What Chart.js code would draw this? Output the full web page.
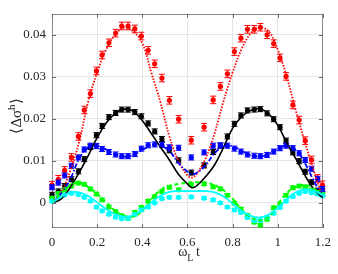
<!DOCTYPE html>
<html><head><meta charset="utf-8">
<script src="https://cdn.jsdelivr.net/npm/chart.js@4"></script>
<style>html,body{margin:0;padding:0;background:#fff;}canvas{display:block;}</style>
</head><body>
<canvas id="c" width="338" height="274"></canvas>
<script>
// ---- data ----
const tData = [0, 0.028, 0.056, 0.086, 0.117, 0.143, 0.170, 0.197, 0.222, 0.252, 0.282, 0.309, 0.337, 0.367, 0.396, 0.426, 0.455, 0.487, 0.520, 0.561, 0.617, 0.674, 0.714, 0.746, 0.777, 0.808, 0.837, 0.866, 0.896, 0.923, 0.953, 0.982, 1.010, 1.037, 1.067, 1.095, 1.122, 1.150, 1.177, 1.198];
const redData = [0.0042, 0.0056, 0.0077, 0.0108, 0.0158, 0.0221, 0.0260, 0.0314, 0.0352, 0.0381, 0.0404, 0.0421, 0.0421, 0.0414, 0.0397, 0.0363, 0.0331, 0.0297, 0.0244, 0.0199, 0.0149, 0.0180, 0.0245, 0.0277, 0.0307, 0.0360, 0.0392, 0.0413, 0.0413, 0.0418, 0.0400, 0.0379, 0.0345, 0.0301, 0.0233, 0.0197, 0.0148, 0.0102, 0.0058, 0.0043];
const blackData = [0.0019, 0.0027, 0.0040, 0.0056, 0.0075, 0.0104, 0.0133, 0.0161, 0.0183, 0.0204, 0.0214, 0.0222, 0.0222, 0.0216, 0.0206, 0.0189, 0.0170, 0.0152, 0.0125, 0.0101, 0.0072, 0.0089, 0.0121, 0.0136, 0.0158, 0.0188, 0.0208, 0.0220, 0.0222, 0.0223, 0.0213, 0.0199, 0.0180, 0.0148, 0.0120, 0.0099, 0.0074, 0.0049, 0.0029, 0.0022];
const blueData = [0.0037, 0.0048, 0.0065, 0.0088, 0.0108, 0.0127, 0.0136, 0.0135, 0.0128, 0.0121, 0.0115, 0.0111, 0.0111, 0.0116, 0.0129, 0.0137, 0.0139, 0.0138, 0.0132, 0.0131, 0.0108, 0.0120, 0.0136, 0.0137, 0.0136, 0.0129, 0.0122, 0.0115, 0.0112, 0.0111, 0.0114, 0.0122, 0.0130, 0.0136, 0.0130, 0.0118, 0.0102, 0.0081, 0.0057, 0.0033];
const greenData = [0.0011, 0.0022, 0.0032, 0.0040, 0.0047, 0.0044, 0.0033, 0.0021, 0.0007, -0.0010, -0.0021, -0.0031, -0.0037, -0.0023, -0.0011, 0.0004, 0.0015, 0.0027, 0.0037, 0.0031, 0.0043, 0.0045, 0.0038, 0.0033, 0.0018, -0.0001, -0.0015, -0.0030, -0.0046, -0.0053, -0.0039, -0.0012, -0.0004, 0.0018, 0.0036, 0.0040, 0.0038, 0.0030, 0.0025, 0.0020];
const cyanData = [0.0004, 0.0013, 0.0019, 0.0023, 0.0020, 0.0013, 0.0004, -0.0010, -0.0019, -0.0027, -0.0034, -0.0038, -0.0037, -0.0028, -0.0017, -0.0010, 0.0000, 0.0010, 0.0013, 0.0013, 0.0014, 0.0011, 0.0007, 0.0000, -0.0010, -0.0017, -0.0023, -0.0035, -0.0042, -0.0042, -0.0035, -0.0025, -0.0011, 0.0004, 0.0015, 0.0023, 0.0027, 0.0024, 0.0021, 0.0017];
const redErr = 0.0009, blackErr = 0.0006, blueErr = 0.0006, greenErr = 0.0004, cyanErr = 0.0003;

const tFit = [0, 0.04, 0.08, 0.12, 0.16, 0.20, 0.24, 0.28, 0.32, 0.36, 0.40, 0.44, 0.48, 0.52, 0.56, 0.60, 0.62, 0.64, 0.68, 0.72, 0.76, 0.80, 0.84, 0.88, 0.92, 0.96, 1.00, 1.04, 1.08, 1.12, 1.16, 1.20];
const redFit = [0, 0.0025, 0.0075, 0.0145, 0.0240, 0.0310, 0.0365, 0.0400, 0.0417, 0.0408, 0.0380, 0.0310, 0.0240, 0.0158, 0.0100, 0.0065, 0.0060, 0.0068, 0.0105, 0.0165, 0.0242, 0.0310, 0.0366, 0.0403, 0.0417, 0.0408, 0.0365, 0.0300, 0.0220, 0.0145, 0.0075, 0.0012];
const blackFit = [0, 0.0009, 0.0036, 0.0072, 0.0112, 0.0155, 0.0190, 0.0213, 0.0223, 0.0218, 0.0196, 0.0165, 0.0133, 0.0102, 0.0068, 0.0045, 0.0036, 0.0040, 0.0062, 0.0090, 0.0132, 0.0177, 0.0205, 0.0220, 0.0224, 0.0212, 0.0185, 0.0143, 0.0105, 0.0066, 0.0032, 0.0012];
const blueFit = [0, 0.0022, 0.0055, 0.0105, 0.0132, 0.0136, 0.0127, 0.0115, 0.0110, 0.0114, 0.0126, 0.0136, 0.0136, 0.0123, 0.0095, 0.0074, 0.0068, 0.0071, 0.0089, 0.0118, 0.0134, 0.0135, 0.0124, 0.0113, 0.0110, 0.0116, 0.0128, 0.0136, 0.0126, 0.0095, 0.0052, 0.0014];
const greenFit = [0, 0.0022, 0.0041, 0.0048, 0.0038, 0.0021, 0.0001, -0.0019, -0.0031, -0.0033, -0.0019, 0.0009, 0.0030, 0.0040, 0.0045, 0.0048, 0.0049, 0.0049, 0.0048, 0.0042, 0.0030, 0.0010, -0.0016, -0.0034, -0.0042, -0.0034, -0.0003, 0.0023, 0.0038, 0.0042, 0.0033, 0.0018];
const cyanFit = [0, 0.0014, 0.0024, 0.0025, 0.0016, 0.0001, -0.0015, -0.0027, -0.0033, -0.0030, -0.0017, 0.0001, 0.0017, 0.0026, 0.0028, 0.0028, 0.0028, 0.0028, 0.0028, 0.0025, 0.0015, -0.0002, -0.0019, -0.0031, -0.0035, -0.0028, -0.0012, 0.0008, 0.0025, 0.0032, 0.0029, 0.0018];

const xTicks = [0, 0.2, 0.4, 0.6, 0.8, 1.0, 1.2];
const xTickLabels = ['0', '0.2', '0.4', '0.6', '0.8', '1', '1.2'];
const yTicks = [0, 0.01, 0.02, 0.03, 0.04];
const yTickLabels = ['0', '0.01', '0.02', '0.03', '0.04'];

// ---- build datasets ----
const pts = (xs, ys) => xs.map((x, i) => ({x, y: ys[i]}));
function dataSet(ys, color, err) {
  return {data: pts(tData, ys), err, borderColor: color, backgroundColor: color,
    pointRadius: 2.6, pointBorderWidth: 0, showLine: false, order: 2, clip: false};
}
function fitSet(ys, color, dash, width) {
  return {data: pts(tFit, ys), borderColor: color, borderWidth: width, borderDash: dash,
    pointRadius: 0, showLine: true, tension: 0.4, fill: false, order: 1};
}
const datasets = [
  dataSet(cyanData, '#00ffff', cyanErr),
  dataSet(greenData, '#00ff00', greenErr),
  dataSet(blueData, '#0000ff', blueErr),
  dataSet(blackData, '#000000', blackErr),
  dataSet(redData, '#ff0000', redErr),
  fitSet(cyanFit, '#00ffff', [], 1.8),
  fitSet(greenFit, '#00ff00', [4, 3], 2),
  fitSet(blueFit, '#0000ff', [5, 2, 1.5, 2], 1.8),
  fitSet(blackFit, '#000000', [], 1.6),
  fitSet(redFit, '#ff0000', [1.5, 1.5], 1.8)
];

const errPlugin = {
  id: 'errbars',
  beforeDatasetDraw(chart, args) {
    const ds = chart.data.datasets[args.index];
    if (!ds.err) return;
    const ctx = chart.ctx, xs = chart.scales.x, ys = chart.scales.y;
    ctx.save();
    ctx.strokeStyle = ds.borderColor; ctx.lineWidth = 1;
    ds.data.forEach(p => {
      const x = xs.getPixelForValue(p.x);
      const y1 = ys.getPixelForValue(p.y - ds.err), y2 = ys.getPixelForValue(p.y + ds.err);
      ctx.beginPath();
      ctx.moveTo(x, y1); ctx.lineTo(x, y2);
      ctx.moveTo(x - 3, y1); ctx.lineTo(x + 3, y1);
      ctx.moveTo(x - 3, y2); ctx.lineTo(x + 3, y2);
      ctx.stroke();
    });
    ctx.restore();
  }
};

const framePlugin = {
  id: 'frame',
  beforeDatasetsDraw(chart) {
    const ctx = chart.ctx, a = chart.chartArea, xs = chart.scales.x, ys = chart.scales.y;
    ctx.save();
    ctx.strokeStyle = '#8a8a8a'; ctx.lineWidth = 1;
    ctx.strokeRect(Math.round(a.left) + 0.5, Math.round(a.top) + 0.5, Math.round(a.right - a.left) - 1, Math.round(a.bottom - a.top) - 1);
    ctx.strokeStyle = '#6a6a6a';
    ctx.beginPath();
    xTicks.forEach(v => {
      const x = Math.round(xs.getPixelForValue(v)) + 0.5;
      ctx.moveTo(x, a.bottom); ctx.lineTo(x, a.bottom - 4);
      ctx.moveTo(x, a.top); ctx.lineTo(x, a.top + 4);
    });
    yTicks.forEach(v => {
      const y = Math.round(ys.getPixelForValue(v)) + 0.5;
      ctx.moveTo(a.left, y); ctx.lineTo(a.left + 4, y);
      ctx.moveTo(a.right, y); ctx.lineTo(a.right - 4, y);
    });
    ctx.stroke();
    ctx.restore();
  },
  afterDraw(chart) {
    const ctx = chart.ctx;
    ctx.save();
    ctx.fillStyle = '#262626';
    ctx.textBaseline = 'alphabetic';
    // x label: omega_L t
    const big = '14px "Liberation Serif"', small = '10px "Liberation Serif"';
    ctx.font = big; const wO = ctx.measureText('\u03c9').width; const wT = ctx.measureText('t').width;
    ctx.font = small; const wL = ctx.measureText('L').width;
    const gap = 2.5;
    let x0 = 189 - (wO + wL + gap + wT) / 2;
    ctx.font = big; ctx.fillText('\u03c9', x0, 255.5);
    ctx.font = small; ctx.fillText('L', x0 + wO, 261);
    ctx.font = big; ctx.fillText('t', x0 + wO + wL + gap, 255.5);
    // y label: <Δσ^h>
    const bigY = '15px "Liberation Serif"', smallY = '11px "Liberation Serif"';
    ctx.translate(21, 116);
    ctx.rotate(-Math.PI / 2);
    ctx.font = bigY; const w1 = ctx.measureText('\u27e8\u0394\u03c3').width; const w3 = ctx.measureText('\u27e9').width;
    ctx.font = smallY; const w2 = ctx.measureText('h').width;
    let s = -(w1 + w2 + w3) / 2;
    ctx.font = bigY; ctx.fillText('\u27e8\u0394\u03c3', s, 0);
    ctx.font = smallY; ctx.fillText('h', s + w1, -6.5);
    ctx.font = bigY; ctx.fillText('\u27e9', s + w1 + w2, 0);
    ctx.restore();
  }
};

const tickFont = {family: '"Liberation Serif", serif', size: 13};
new Chart(document.getElementById('c'), {
  type: 'scatter',
  data: {datasets},
  options: {
    responsive: false, animation: false, devicePixelRatio: 1,
    layout: {padding: {left: 0, right: 11, top: 4, bottom: 0}, autoPadding: false},
    plugins: {legend: {display: false}, tooltip: {enabled: false}},
    scales: {
      x: {type: 'linear', min: 0, max: 1.2,
        afterFit(s) { s.height = 46; },
        afterBuildTicks(s) { s.ticks = xTicks.map(v => ({value: v})); },
        ticks: {callback: (v, i) => xTickLabels[i], font: tickFont, color: '#262626', padding: 7, maxRotation: 0, autoSkip: false},
        grid: {color: '#e6e6e6', drawTicks: false, lineWidth: 1},
        border: {display: false}},
      y: {type: 'linear', min: -0.006, max: 0.045,
        afterFit(s) { s.width = 52; },
        afterBuildTicks(s) { s.ticks = yTicks.map(v => ({value: v})); },
        ticks: {callback: (v, i) => yTickLabels[i], font: tickFont, color: '#262626', padding: 6, autoSkip: false},
        grid: {color: '#e6e6e6', drawTicks: false, lineWidth: 1},
        border: {display: false}}
    }
  },
  plugins: [errPlugin, framePlugin]
});
</script></body></html>
